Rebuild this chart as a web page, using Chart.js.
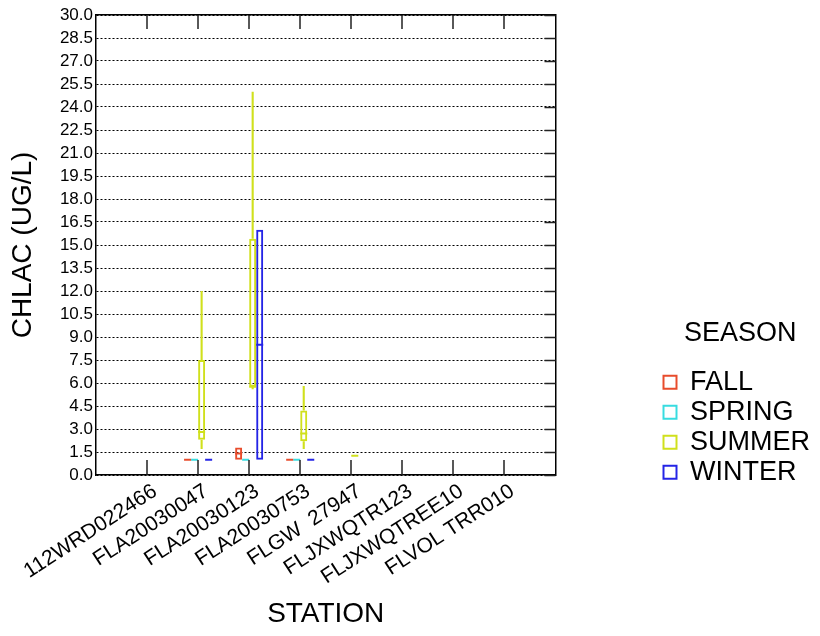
<!DOCTYPE html>
<html>
<head>
<meta charset="utf-8">
<script src="https://cdn.jsdelivr.net/npm/chart.js@4.4.1/dist/chart.umd.min.js"></script>
<style>
  html, body { margin: 0; padding: 0; background: #fff; }
  #wrap { width: 820px; height: 636px; }
</style>
</head>
<body>
<div id="wrap"><canvas id="chart"></canvas></div>
<script>
// ── DATA ──
const stations = ['112WRD022466', 'FLA20030047', 'FLA20030123', 'FLA20030753', 'FLGW  27947', 'FLJXWQTR123', 'FLJXWQTREE10', 'FLVOL TRR010'];
const seasons = ['FALL', 'SPRING', 'SUMMER', 'WINTER'];
const seasonColors = ['#e84c2c', '#38dce0', '#d0e01c', '#2424e6'];

// one entry per station: [min, q1, median, q3, max]
const fallStats   = [null, [1.0, 1.0, 1.0, 1.0, 1.0], [1.0, 1.0, 1.4, 1.8, 1.8], [1.0, 1.0, 1.0, 1.0, 1.0], null, null, null, null];
const springStats = [null, [1.0, 1.0, 1.0, 1.0, 1.0], [1.0, 1.0, 1.0, 1.0, 1.0], [1.0, 1.0, 1.0, 1.0, 1.0], null, null, null, null];
const summerStats = [null, [1.7, 2.3, 2.8, 7.5, 12.0], [5.6, 5.75, 5.75, 15.4, 25.0], [1.7, 2.2, 2.7, 4.2, 5.8], [1.25, 1.25, 1.25, 1.25, 1.25], null, null, null];
const winterStats = [null, [1.0, 1.0, 1.0, 1.0, 1.0], [1.0, 1.0, 8.5, 16.0, 16.0], [1.0, 1.0, 1.0, 1.0, 1.0], null, null, null, null];

const yMin = 0, yMax = 30, yStep = 1.5;

// ── HELPERS ──
const allStats = [fallStats, springStats, summerStats, winterStats];
const FONT = 'Arial, "Liberation Sans", sans-serif';
// empty slot at each end so stations sit one step in from the frame
const labels = ['', ...stations, ''];
const pad = arr => [null, ...arr, null];
const pick = (stats, fn) => pad(stats.map(s => (s ? fn(s) : null)));

const common = { categoryPercentage: 0.55, borderSkipped: false };
const medians = [], boxes = [], upper = [], lower = [];

seasons.forEach((season, i) => {
  const stats = allStats[i], color = seasonColors[i];
  medians.push({ ...common, label: season + ' median', stack: season, barPercentage: 1.0,
    data: pick(stats, s => [s[2] - 0.065, s[2] + 0.065]),
    backgroundColor: color, borderWidth: 0 });
  boxes.push({ ...common, label: season, stack: season, barPercentage: 1.0,
    data: pick(stats, s => [s[1], s[3]]),
    backgroundColor: 'rgba(255,255,255,0)', borderColor: color, borderWidth: 2 });
  upper.push({ ...common, label: season + ' upper', stack: season, barPercentage: 0.3,
    data: pick(stats, s => [s[3], s[4]]),
    backgroundColor: color, borderWidth: 0 });
  lower.push({ ...common, label: season + ' lower', stack: season, barPercentage: 0.3,
    data: pick(stats, s => [s[0], s[1]]),
    backgroundColor: color, borderWidth: 0 });
});

// short tick marks inside the frame (bottom, top, right)
const frameTicks = {
  id: 'frameTicks',
  afterDatasetsDraw(chart) {
    const { ctx, chartArea: a, scales: { x, y } } = chart;
    ctx.save();
    ctx.strokeStyle = '#222';
    ctx.lineWidth = 1.5;
    ctx.beginPath();
    stations.forEach((s, i) => {
      const px = Math.round(x.getPixelForValue(i + 1));
      ctx.moveTo(px, a.bottom); ctx.lineTo(px, a.bottom - 15);
      ctx.moveTo(px, a.top); ctx.lineTo(px, a.top + 14);
    });
    y.ticks.forEach(t => {
      const py = Math.round(y.getPixelForValue(t.value)) + 0.5;
      ctx.moveTo(a.right - 11, py); ctx.lineTo(a.right, py);
    });
    ctx.stroke();
    ctx.restore();
  }
};

new Chart(document.getElementById('chart'), {
  type: 'bar',
  data: { labels: labels, datasets: [...medians, ...boxes, ...upper, ...lower] },
  plugins: [frameTicks],
  options: {
    responsive: true,
    maintainAspectRatio: false,
    animation: false,
    layout: { padding: { top: 15, left: 0, right: 0, bottom: 0 } },
    plugins: {
      tooltip: { enabled: false },
      legend: {
        position: 'right',
        align: 'center',
        maxWidth: 220,
        title: { display: true, text: 'SEASON', color: '#000', font: { family: FONT, size: 27 }, padding: { top: 158, bottom: 13 } },
        labels: {
          color: '#000', font: { family: FONT, size: 27 }, boxWidth: 13, boxHeight: 13, padding: 3,
          filter: item => seasons.includes(item.text)
        }
      }
    },
    scales: {
      x: {
        type: 'category',
        position: 'bottom',
        offset: false,
        stacked: true,
        afterFit: s => { s.height = 161; },
        grid: { display: false, drawTicks: false },
        border: { display: true, color: '#000', width: 1.5 },
        ticks: { autoSkip: false, minRotation: 33, maxRotation: 33, padding: 4, labelOffset: 8, color: '#000', font: { family: FONT, size: 21 } },
        title: { display: true, text: 'STATION', color: '#000', font: { family: FONT, size: 28 }, padding: { top: 0, bottom: 5 } }
      },
      x2: {
        type: 'category',
        position: 'top',
        offset: false,
        afterFit: s => { s.height = 0; },
        grid: { display: false, drawTicks: false },
        border: { display: true, color: '#000', width: 1.5 },
        ticks: { display: false }
      },
      y: {
        position: 'left',
        min: yMin, max: yMax,
        stacked: false,
        afterFit: s => { s.width = 96; },
        grid: { color: '#000', lineWidth: 1, drawTicks: false },
        border: { display: true, color: '#000', width: 1.5, dash: [2, 2] },
        ticks: { autoSkip: false, stepSize: yStep, padding: 3, color: '#000', font: { family: FONT, size: 17 }, callback: v => v.toFixed(1) },
        title: { display: true, text: 'CHLAC (UG/L)', color: '#000', font: { family: FONT, size: 28 }, padding: { top: 6, bottom: 0 } }
      },
      y2: {
        position: 'right',
        min: yMin, max: yMax,
        afterFit: s => { s.width = 105; },
        grid: { display: false, drawTicks: false },
        border: { display: true, color: '#000', width: 1.5 },
        ticks: { display: false }
      }
    }
  }
});
</script>
</body>
</html>
